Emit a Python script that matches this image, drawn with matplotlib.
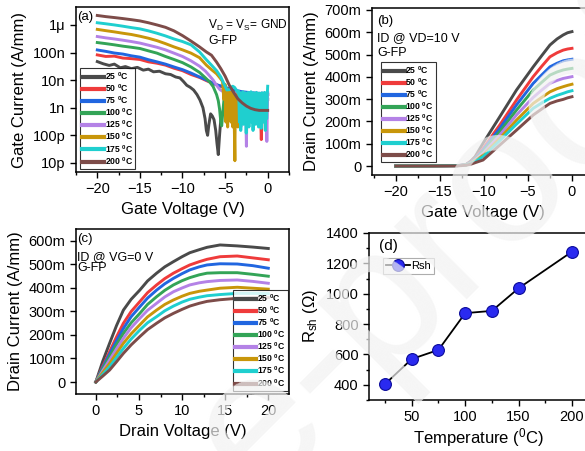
import numpy as np
import matplotlib
matplotlib.use('Agg')
import matplotlib.pyplot as plt
from matplotlib.ticker import FixedLocator, MultipleLocator, FuncFormatter

plt.rcParams['font.family'] = ['Liberation Sans', 'DejaVu Sans']
plt.rcParams['mathtext.fontset'] = 'custom'
plt.rcParams['mathtext.rm'] = 'Liberation Sans'
plt.rcParams['mathtext.it'] = 'Liberation Sans:italic'

temps = [25, 50, 75, 100, 125, 150, 175, 200]
colors = ['#4a4a4a', '#ef3b3b', '#2166e0', '#33a457', '#b482e6', '#c8960a', '#1fcfcf', '#7d4c49']

# ---- (a) gate leakage, A/mm
va_25 = [-20, -19.3, -18.6, -18, -17.3, -16.7, -16, -15.3, -14.6, -14, -13.4, -12.7, -12, -11.4, -10.8,
         -10.3, -9.9, -9.5, -9.1, -8.7, -8.3, -7.95, -7.6, -7.35, -7.2, -7.05, -6.9, -6.7, -6.5, -6.3,
         -6.1, -5.95, -5.8, -5.65, -5.5, -5.2, -4.5, -3, -1.5, 0]
ia_25 = [4.7e-8, 3.9e-8, 3.4e-8, 3.8e-8, 2.8e-8, 3.1e-8, 2.6e-8, 2.9e-8, 2.3e-8, 2.5e-8, 2.0e-8, 2.1e-8,
         1.7e-8, 1.6e-8, 1.3e-8, 1.2e-8, 9e-9, 6.5e-9, 5.5e-9, 4.4e-9, 3.0e-9, 1.9e-9, 1.0e-9, 4e-10,
         1.5e-10, 1.0e-10, 2.5e-10, 6e-10, 5e-10, 3.7e-10, 1.5e-10, 5e-11, 2e-11, 1e-10, 4e-10, 8e-10,
         1.5e-9, 2e-9, 2e-9, 2e-9]
va_50 = [-20, -19, -18, -17, -16, -15, -14, -13, -12, -11, -10, -9, -8, -7, -6, -5.2, -4.6, -4, -3, -2,
         -1.2, -0.9, -0.75, -0.6, -0.3, 0]
ia_50 = [8.2e-8, 7.2e-8, 7.4e-8, 6.3e-8, 6.0e-8, 5.6e-8, 4.6e-8, 4.1e-8, 3.5e-8, 2.7e-8, 2.2e-8, 1.6e-8,
         1.25e-8, 9e-9, 6.8e-9, 5.5e-9, 4.5e-9, 3.8e-9, 3.4e-9, 3.2e-9, 3.1e-9, 3e-9, 7e-11, 3e-9,
         2.9e-9, 3e-9]
va_75 = [-20, -19, -18, -17, -16, -15, -14, -13, -12, -11, -10, -9, -8, -7, -6, -5, -4, -3, -2, -1, 0]
ia_75 = [1.24e-7, 1.1e-7, 9.6e-8, 8.8e-8, 7.6e-8, 6.8e-8, 5.5e-8, 4.6e-8, 3.8e-8, 3.0e-8, 2.4e-8, 1.8e-8,
         1.3e-8, 9.5e-9, 6.8e-9, 5.5e-9, 4.4e-9, 3.8e-9, 3.5e-9, 3.3e-9, 3.1e-9]
va_100 = [-20, -19, -18, -17, -16, -15, -14, -13, -12, -11, -10, -9, -8, -7.3, -6.8, -6.4, -6.0, -5.8,
          -5.65, -5.5, -5.4, -5.25, -5.1, -4.9]
ia_100 = [2.3e-7, 2.1e-7, 1.9e-7, 1.7e-7, 1.55e-7, 1.4e-7, 1.15e-7, 9.5e-8, 7.2e-8, 5.6e-8, 4.3e-8, 3.0e-8,
          1.9e-8, 1.2e-8, 8.5e-9, 5.8e-9, 3e-9, 1.8e-9, 9e-10, 3e-10, 2.2e-10, 8e-10, 2.5e-9, 3.5e-9]
va_125 = [-20, -19, -18, -17, -16, -15, -14, -13, -12, -11, -10, -9, -8, -7.3, -6.8, -6.4, -6, -5.6, -5.2,
          -4.8, -4.4, -4, -3.6, -3.3, -3.15, -3.0, -2.8, -2.6, -2.5, -2.4, -2.2, -2, -1.5, -1, -0.5,
          -0.2, -0.1, 0]
ia_125 = [3.8e-7, 3.4e-7, 3.1e-7, 2.8e-7, 2.5e-7, 2.2e-7, 1.85e-7, 1.55e-7, 1.25e-7, 9.5e-8, 7.2e-8, 5e-8,
          3.2e-8, 2.1e-8, 1.4e-8, 1e-8, 6.5e-9, 4.5e-9, 3.8e-9, 3.5e-9, 4e-9, 3.3e-9, 3.6e-9, 3.4e-9,
          2e-10, 3.2e-9, 3.5e-9, 3e-9, 4e-11, 3.3e-9, 3.5e-9, 3.2e-9, 3.4e-9, 3.3e-9, 3.4e-9, 3.2e-9,
          6e-11, 3.5e-9]
va_150 = [-20, -19, -18, -17, -16, -15, -14, -13, -12, -11, -10, -9, -8, -7.2, -6.6, -6.0, -5.6, -5.3,
          -5.15, -5.0, -4.9, -4.8, -4.7, -4.6, -4.5, -4.4, -4.3, -4.2, -4.1, -4.0, -3.9, -3.85, -3.8,
          -3.7, -3.6, -3.5, -3.4]
ia_150 = [6.9e-7, 6.2e-7, 5.6e-7, 5.0e-7, 4.5e-7, 3.9e-7, 3.3e-7, 2.7e-7, 2.1e-7, 1.6e-7, 1.25e-7, 9.5e-8,
          6.5e-8, 3.5e-8, 2.4e-8, 1.7e-8, 1.2e-8, 9e-9, 2e-9, 7e-9, 3e-10, 5e-9, 2e-10, 4e-9, 5e-10,
          3.5e-9, 3e-10, 4e-9, 2e-10, 3e-9, 1e-10, 1.2e-11, 2e-9, 3e-10, 3e-9, 2e-10, 3e-9]
va_175 = [-20, -19, -18, -17, -16, -15, -14, -13, -12, -11, -10, -9, -8, -7.2, -6.6, -6.0, -5.5, -5.1,
          -4.8, -4.5, -4.3, -4.1, -3.9, -3.7, -3.5,
          -3.40, -3.32, -3.24, -3.16, -3.08, -3.00, -2.92, -2.84, -2.76, -2.68, -2.60, -2.52, -2.44,
          -2.36, -2.28, -2.20, -2.12, -2.04, -1.96, -1.88, -1.80, -1.72, -1.64, -1.56, -1.48, -1.40,
          -1.32, -1.24, -1.16, -1.08, -1.00, -0.92, -0.84, -0.76, -0.68, -0.60, -0.52, -0.44, -0.36,
          -0.28, -0.20, -0.12, -0.04, 0.0]
ia_175 = [1.2e-6, 1.1e-6, 1.0e-6, 9e-7, 8e-7, 7.2e-7, 6.1e-7, 5e-7, 4e-7, 3.1e-7, 2.5e-7, 1.9e-7, 1.05e-7,
          5.5e-8, 3.5e-8, 2.2e-8, 1.3e-8, 7e-9, 4.4e-9, 4.5e-9, 5.5e-9, 6e-9, 5.5e-9, 4.5e-9, 3.5e-9,
          4e-9, 3e-10, 3.5e-9, 1.5e-10, 3e-9, 5e-10, 3.8e-9, 2.5e-10, 3.2e-9, 6e-10, 3.5e-9, 1.2e-10,
          3e-9, 4e-10, 3.6e-9, 2e-10, 3.3e-9, 7e-10, 3.8e-9, 3e-10, 3.1e-9, 1.5e-10, 3.5e-9, 5e-10,
          3.2e-9, 2.5e-10, 3.6e-9, 6e-10, 3e-9, 2e-10, 3.4e-9, 4e-10, 3.1e-9, 1.8e-10, 3.5e-9, 5e-10,
          3.2e-9, 3e-10, 3.6e-9, 1.5e-10, 3.3e-9, 4e-10, 3.5e-9, 6e-9]
va_200 = [-20, -19, -18, -17, -16, -15, -14, -13, -12, -11, -10, -9, -8, -7.2, -6.6, -6.0, -5.5, -5.0,
          -4.5, -4.0, -3.5, -3.0, -2.5, -2.0, -1.5, -1.0, -0.5, 0]
ia_200 = [2.2e-6, 2.0e-6, 1.85e-6, 1.7e-6, 1.55e-6, 1.4e-6, 1.2e-6, 1.0e-6, 8.2e-7, 6.1e-7, 4.1e-7, 2.6e-7,
          1.6e-7, 1.05e-7, 8e-8, 4.5e-8, 2.6e-8, 1.4e-8, 6.5e-9, 3.6e-9, 2.1e-9, 1.5e-9, 1.15e-9, 9.5e-10,
          8.5e-10, 8e-10, 8e-10, 8e-10]
va = [va_25, va_50, va_75, va_100, va_125, va_150, va_175, va_200]
ia = [ia_25, ia_50, ia_75, ia_100, ia_125, ia_150, ia_175, ia_200]

# ---- (b) transfer at VD=10 V, A/mm
vg_b = [-20, -13, -12.5, -12, -11.5, -11, -10.1, -8.2, -6.3, -4.4, -3.4, -2.5, -1.7, -1, -0.5, 0]
id_b = [
    [0, 0.002, 0.004, 0.008, 0.022, 0.042, 0.102, 0.221, 0.341, 0.445, 0.497, 0.543, 0.570, 0.588, 0.598, 0.603],
    [0, 0.002, 0.004, 0.007, 0.019, 0.036, 0.079, 0.184, 0.296, 0.401, 0.449, 0.490, 0.508, 0.520, 0.525, 0.528],
    [0, 0.002, 0.004, 0.007, 0.017, 0.033, 0.072, 0.169, 0.274, 0.371, 0.410, 0.445, 0.461, 0.472, 0.476, 0.479],
    [0, 0.002, 0.003, 0.006, 0.015, 0.030, 0.064, 0.154, 0.251, 0.341, 0.377, 0.408, 0.422, 0.431, 0.435, 0.438],
    [0, 0.002, 0.003, 0.006, 0.014, 0.027, 0.057, 0.139, 0.229, 0.308, 0.342, 0.371, 0.384, 0.393, 0.397, 0.401],
    [0, 0.002, 0.003, 0.005, 0.012, 0.024, 0.049, 0.124, 0.206, 0.281, 0.309, 0.333, 0.347, 0.356, 0.362, 0.367],
    [0, 0.002, 0.003, 0.005, 0.011, 0.020, 0.042, 0.114, 0.188, 0.259, 0.284, 0.304, 0.317, 0.326, 0.333, 0.338],
    [0, 0.001, 0.002, 0.004, 0.008, 0.015, 0.027, 0.094, 0.161, 0.229, 0.257, 0.281, 0.292, 0.299, 0.306, 0.311],
]

# ---- (c) output at VG=0 V, A/mm
vd_c = [0, 0.8, 1.6, 2.4, 3.2, 4.1, 5.1, 6, 7.05, 8, 9, 10, 10.9, 12, 12.9, 14.4, 16.4, 18.2, 20]
id_c = [
    [0, 0.088, 0.165, 0.240, 0.306, 0.352, 0.391, 0.430, 0.463, 0.490, 0.512, 0.533, 0.550, 0.563, 0.573, 0.583, 0.579, 0.574, 0.568],
    [0, 0.067, 0.129, 0.192, 0.250, 0.300, 0.342, 0.380, 0.413, 0.440, 0.463, 0.482, 0.498, 0.512, 0.522, 0.533, 0.536, 0.528, 0.520],
    [0, 0.062, 0.119, 0.176, 0.228, 0.278, 0.320, 0.357, 0.391, 0.418, 0.441, 0.461, 0.477, 0.490, 0.498, 0.503, 0.502, 0.495, 0.484],
    [0, 0.056, 0.108, 0.160, 0.207, 0.252, 0.292, 0.330, 0.363, 0.390, 0.413, 0.431, 0.444, 0.456, 0.463, 0.465, 0.465, 0.458, 0.450],
    [0, 0.048, 0.094, 0.141, 0.186, 0.231, 0.271, 0.305, 0.335, 0.362, 0.384, 0.400, 0.413, 0.422, 0.427, 0.432, 0.434, 0.428, 0.420],
    [0, 0.040, 0.079, 0.122, 0.165, 0.205, 0.243, 0.277, 0.306, 0.330, 0.349, 0.365, 0.377, 0.386, 0.391, 0.399, 0.403, 0.399, 0.395],
    [0, 0.032, 0.065, 0.104, 0.143, 0.183, 0.221, 0.252, 0.278, 0.303, 0.323, 0.340, 0.352, 0.361, 0.367, 0.372, 0.377, 0.377, 0.376],
    [0, 0.025, 0.051, 0.086, 0.122, 0.158, 0.193, 0.223, 0.250, 0.273, 0.292, 0.309, 0.323, 0.335, 0.343, 0.350, 0.356, 0.358, 0.359],
]

# ---- (d) sheet resistance
t_d = [25, 50, 75, 100, 125, 150, 200]
rsh = [405, 570, 630, 872, 887, 1036, 1277]

labels = [r'%d $\mathregular{^0}$C' % t for t in temps]

fig = plt.figure(figsize=(5.85, 4.51), dpi=100)
ax1 = fig.add_axes([0.1299, 0.6186, 0.3641, 0.3659])
ax2 = fig.add_axes([0.6359, 0.612, 0.3795, 0.3703])
ax3 = fig.add_axes([0.1299, 0.1264, 0.3641, 0.3659])
ax4 = fig.add_axes([0.6308, 0.1131, 0.3744, 0.3703])


def style(ax):
    for s in ax.spines.values():
        s.set_linewidth(1.1)
    ax.tick_params(which='both', direction='out', width=1.0, labelsize=10.5)
    ax.tick_params(which='major', length=4)
    ax.tick_params(which='minor', length=2.5)


def leg(ax, **kw):
    lg = ax.legend(prop={'weight': 'bold', 'size': 6.2}, frameon=True, fancybox=False,
                   edgecolor='black', handlelength=2.5, handletextpad=0.1, labelspacing=0.04,
                   borderpad=0.25, borderaxespad=0, **kw)
    lg.get_frame().set_linewidth(0.8)
    for h in lg.get_lines():
        h.set_linewidth(3)
    return lg


m_fmt = FuncFormatter(lambda v, p: '0' if abs(v) < 1e-9 else '%dm' % round(v * 1000))

# (a)
for v, i, c, l in zip(va, ia, colors, labels):
    ax1.plot(v, i, color=c, lw=2.1, label=l)
ax1.set_yscale('log')
ax1.set_xlim(-22.5, 2.5)
ax1.set_ylim(10 ** -11.33, 10 ** -5.35)
ax1.yaxis.set_major_locator(FixedLocator([1e-6, 1e-7, 1e-8, 1e-9, 1e-10, 1e-11]))
ax1.set_yticklabels(['1\u03bc', '100n', '10n', '1n', '100p', '10p'])
ax1.yaxis.set_minor_locator(FixedLocator([]))
ax1.xaxis.set_major_locator(MultipleLocator(5))
ax1.xaxis.set_minor_locator(MultipleLocator(2.5))
ax1.set_xlabel('Gate Voltage (V)', fontsize=12)
ax1.set_ylabel('Gate Current (A/mm)', fontsize=12)
style(ax1)
ax1.text(0.005, 0.975, '(a)', transform=ax1.transAxes, fontsize=9.5, va='top')
ax1.text(0.62, 0.89, r'V$\mathregular{_D}$ = V$\mathregular{_S}$= GND', transform=ax1.transAxes,
         fontsize=8.6, va='center')
ax1.text(0.62, 0.794, 'G-FP', transform=ax1.transAxes, fontsize=8.8, va='center')
leg(ax1, loc='lower left', bbox_to_anchor=(0.02, 0.02))

# (b)
for y, c, l in zip(id_b, colors, labels):
    ax2.plot(vg_b, y, color=c, lw=2.1, label=l)
ax2.set_xlim(-22.7, 2.5)
ax2.set_ylim(-0.04, 0.709)
ax2.yaxis.set_major_locator(MultipleLocator(0.1))
ax2.yaxis.set_major_formatter(m_fmt)
ax2.xaxis.set_major_locator(MultipleLocator(5))
ax2.xaxis.set_minor_locator(MultipleLocator(2.5))
ax2.set_xlabel('Gate Voltage (V)', fontsize=12)
ax2.set_ylabel('Drain Current (A/mm)', fontsize=12)
style(ax2)
ax2.text(0.023, 0.955, '(b)', transform=ax2.transAxes, fontsize=9.5, va='top')
ax2.text(0.023, 0.82, 'ID @ VD=10 V', transform=ax2.transAxes, fontsize=9, va='center')
ax2.text(0.023, 0.73, 'G-FP', transform=ax2.transAxes, fontsize=9, va='center')
leg(ax2, loc='lower left', bbox_to_anchor=(0.04, 0.075))

# (c)
for y, c, l in zip(id_c, colors, labels):
    ax3.plot(vd_c, y, color=c, lw=2.1, label=l)
ax3.set_xlim(-2.3, 22.4)
ax3.set_ylim(-0.051, 0.651)
ax3.yaxis.set_major_locator(MultipleLocator(0.1))
ax3.yaxis.set_major_formatter(m_fmt)
ax3.xaxis.set_major_locator(MultipleLocator(5))
ax3.xaxis.set_minor_locator(MultipleLocator(2.5))
ax3.set_xlabel('Drain Voltage (V)', fontsize=12)
ax3.set_ylabel('Drain Current (A/mm)', fontsize=12)
style(ax3)
ax3.text(0.005, 0.975, '(c)', transform=ax3.transAxes, fontsize=9.5, va='top')
ax3.text(0.005, 0.832, 'ID @ VG=0 V', transform=ax3.transAxes, fontsize=9, va='center')
ax3.text(0.005, 0.762, 'G-FP', transform=ax3.transAxes, fontsize=9, va='center')
leg(ax3, loc='lower right', bbox_to_anchor=(0.995, 0.02))

# (d)
ax4.plot(t_d, rsh, color='black', lw=1.3, marker='o', ms=8.5, mfc='#2a2af0', mec='#0a0a9a',
         mew=0.8, label='Rsh')
ax4.set_xlim(10, 215)
ax4.set_ylim(300, 1400)
ax4.xaxis.set_major_locator(MultipleLocator(50))
ax4.xaxis.set_minor_locator(MultipleLocator(25))
ax4.yaxis.set_major_locator(MultipleLocator(200))
ax4.yaxis.set_minor_locator(MultipleLocator(100))
ax4.set_xlabel(r'Temperature ($\mathregular{^0}$C)', fontsize=12, labelpad=1)
ax4.set_ylabel(r'R$\mathregular{_{sh}}$ ($\Omega$)', fontsize=12)
style(ax4)
ax4.text(0.046, 0.965, '(d)', transform=ax4.transAxes, fontsize=11, va='top')
lg = ax4.legend(fontsize=8, frameon=True, fancybox=False, edgecolor='#999999', handlelength=2.2,
                handletextpad=0.1, borderpad=0.25, borderaxespad=0, loc='upper left',
                bbox_to_anchor=(0.065, 0.85))
lg.get_frame().set_linewidth(0.8)

# faint watermark (only the visible tail of "Journal Pre-proof")
fig.text(0.44, -0.11, 'e-proof', rotation=45, rotation_mode='anchor', ha='left',
         va='baseline', fontsize=140, color='#f2f2f2', alpha=0.7, zorder=10)

fig.savefig('out.png', dpi=100)
